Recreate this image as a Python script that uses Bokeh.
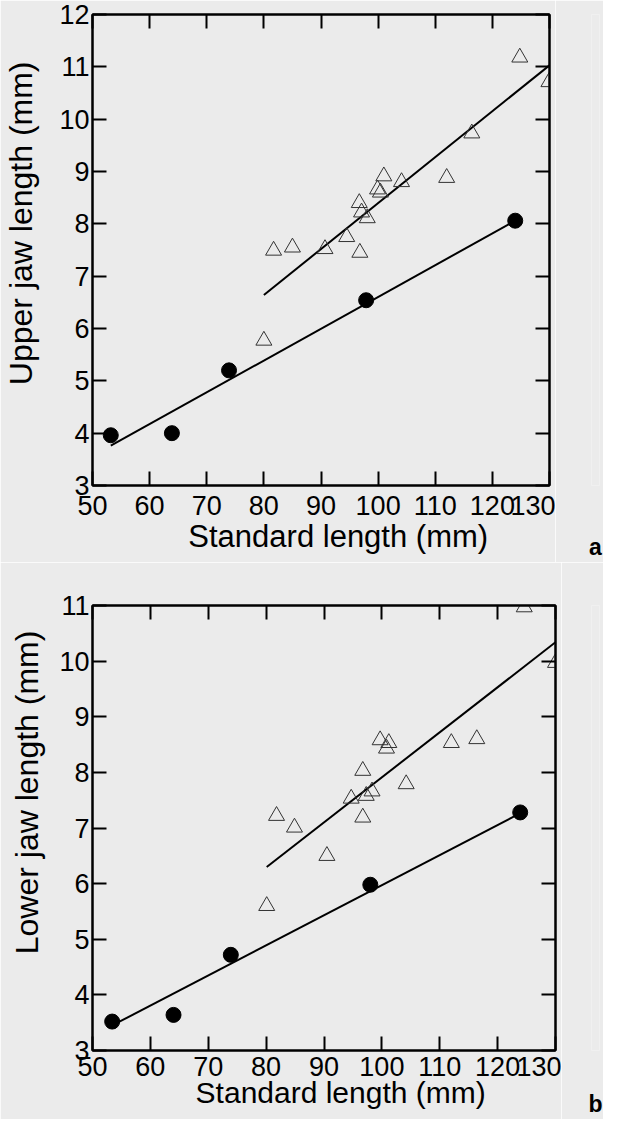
from bokeh.plotting import figure
from bokeh.models import Range1d, LinearAxis, FixedTicker
from bokeh.layouts import column, row
from bokeh.embed import file_html
from bokeh.resources import INLINE

# ---------------- data: panel a (upper jaw length) ----------------
sl_a_circle = [53.2, 63.9, 73.9, 97.9, 124.0]
uj_circle = [3.96, 4.00, 5.20, 6.54, 8.06]

sl_a_triangle = [80.0, 81.7, 85.0, 90.7, 94.5, 96.8, 96.7, 97.1, 98.1,
                 99.9, 100.4, 101.0, 104.1, 112.0, 116.4, 124.8, 129.9]
uj_triangle = [5.77, 7.49, 7.55, 7.52, 7.75, 7.45, 8.40, 8.22, 8.11,
               8.66, 8.60, 8.91, 8.80, 8.88, 9.73, 11.18, 10.71]

fit_a_circle_x = [53.2, 124.0]
fit_a_circle_y = [3.76, 8.06]
fit_a_triangle_x = [80.0, 130.0]
fit_a_triangle_y = [6.64, 11.03]

# ---------------- data: panel b (lower jaw length) ----------------
sl_b_circle = [53.4, 64.0, 73.9, 98.0, 123.9]
lj_circle = [3.52, 3.64, 4.72, 5.98, 7.28]

sl_b_triangle = [80.1, 81.8, 84.9, 90.5, 94.7, 96.7, 96.7, 97.3, 98.3,
                 99.7, 100.8, 101.2, 104.2, 112.0, 116.4, 124.6, 130.0]
lj_triangle = [5.60, 7.22, 7.01, 6.50, 7.53, 8.03, 7.19, 7.58, 7.66,
               8.58, 8.43, 8.53, 7.79, 8.53, 8.60, 10.97, 9.97]

fit_b_circle_x = [53.4, 124.0]
fit_b_circle_y = [3.45, 7.27]
fit_b_triangle_x = [80.1, 130.0]
fit_b_triangle_y = [6.30, 10.34]

# ---------------- axes / labels ----------------
x_tick_values = [50, 60, 70, 80, 90, 100, 110, 120, 130]
y_tick_values_a = [3, 4, 5, 6, 7, 8, 9, 10, 11, 12]
y_tick_values_b = [3, 4, 5, 6, 7, 8, 9, 10, 11]
x_title = "Standard length (mm)"
y_title_a = "Upper jaw length (mm)"
y_title_b = "Lower jaw length (mm)"
tag_a = "a"
tag_b = "b"

FONT = "Liberation Sans"
BG = "#ebebeb"
NBSP = "\u00a0"   # used only to nudge the centred axis titles off-centre


def style_axis(ax, ticks, show_labels, standoff=3):
    ax.ticker = FixedTicker(ticks=ticks)
    ax.major_tick_in = 14
    ax.major_tick_out = 0
    ax.minor_tick_line_color = None
    ax.axis_line_color = "black"
    ax.axis_line_width = 2
    ax.major_tick_line_color = "black"
    ax.major_tick_line_width = 2
    ax.major_label_text_font = FONT
    if show_labels:
        ax.major_label_text_color = "black"
        ax.major_label_standoff = standoff
        ax.major_label_text_font_size = "27px"
    else:
        ax.major_label_text_color = None
        ax.major_label_standoff = 0
        ax.major_label_text_font_size = "1px"


def make_panel(xc, yc, xt, yt, fcx, fcy, ftx, fty, y_lo, y_hi, y_ticks,
               xlabel, ylabel, width, height, borders, x_standoff,
               x_title_standoff, y_title_standoff, x_title_size, y_title_size):
    bl, bt, br, bb = borders
    p = figure(width=width, height=height,
               x_range=Range1d(50, 130), y_range=Range1d(y_lo, y_hi),
               output_backend="svg", toolbar_location=None,
               min_border_left=bl, min_border_top=bt,
               min_border_right=br, min_border_bottom=bb,
               background_fill_color=BG, border_fill_color=BG)
    p.outline_line_color = "black"
    p.outline_line_width = 2
    p.xgrid.grid_line_color = None
    p.ygrid.grid_line_color = None

    xb = p.below[0]
    style_axis(xb, x_tick_values, True, x_standoff)
    xb.axis_label = xlabel
    xb.axis_label_text_font = FONT
    xb.axis_label_text_font_style = "normal"
    xb.axis_label_text_font_size = x_title_size
    xb.axis_label_text_color = "black"
    xb.axis_label_standoff = x_title_standoff

    yl = p.left[0]
    style_axis(yl, y_ticks, True, 3)
    yl.axis_label = ylabel
    yl.axis_label_text_font = FONT
    yl.axis_label_text_font_style = "normal"
    yl.axis_label_text_font_size = y_title_size
    yl.axis_label_text_color = "black"
    yl.axis_label_standoff = y_title_standoff

    top = LinearAxis()
    style_axis(top, x_tick_values, False)
    p.add_layout(top, "above")
    right = LinearAxis()
    style_axis(right, y_ticks, False)
    p.add_layout(right, "right")

    # regression lines
    p.line(fcx, fcy, line_color="black", line_width=2)
    p.line(ftx, fty, line_color="black", line_width=2)
    # points
    p.scatter(xt, yt, marker="triangle", size=16, fill_color=None,
              line_color="#333333", line_width=1)
    p.scatter(xc, yc, marker="circle", size=15, fill_color="black",
              line_color="black")
    return p


def make_tag(text, width, height, borders, standoff):
    bl, bt, br, bb = borders
    t = figure(width=width, height=height, x_range=Range1d(0, 1),
               y_range=Range1d(0, 1), output_backend="svg",
               toolbar_location=None, min_border_left=bl, min_border_top=bt,
               min_border_right=br, min_border_bottom=bb,
               background_fill_color=BG, border_fill_color=BG,
               outline_line_color=None)
    t.yaxis.visible = False
    t.grid.grid_line_color = None
    ax = t.xaxis[0]
    ax.ticker = FixedTicker(ticks=[])
    ax.axis_line_color = None
    ax.major_tick_line_color = None
    ax.minor_tick_line_color = None
    ax.major_tick_in = 0
    ax.major_tick_out = 0
    ax.major_label_standoff = 0
    ax.major_label_text_font_size = "1px"
    ax.major_label_text_color = None
    ax.axis_label = text
    ax.axis_label_text_font = FONT
    ax.axis_label_text_font_size = "23px"
    ax.axis_label_text_font_style = "bold"
    ax.axis_label_text_color = "black"
    ax.axis_label_standoff = standoff
    return t


pa = make_panel(sl_a_circle, uj_circle, sl_a_triangle, uj_triangle,
                fit_a_circle_x, fit_a_circle_y, fit_a_triangle_x, fit_a_triangle_y,
                3, 12, y_tick_values_a,
                NBSP * 4 + x_title, NBSP * 6 + y_title_a,
                555, 562, (89, 14, 6, 77), 10, 1, 17, "31px", "32px")

pb = make_panel(sl_b_circle, lj_circle, sl_b_triangle, lj_triangle,
                fit_b_circle_x, fit_b_circle_y, fit_b_triangle_x, fit_b_triangle_y,
                3, 11, y_tick_values_b,
                NBSP * 4 + x_title, NBSP * 8 + y_title_b,
                561, 557, (92, 43, 6, 67), 6, -3, 11, "30px", "32px")

ta = make_tag(tag_a, 48, 562, (36, 14, 4, 77), 48)
tb = make_tag(tag_b, 42, 557, (30, 43, 4, 67), 40)

layout = column(row(pa, ta, spacing=0), row(pb, tb, spacing=0), spacing=0)
open("out.html", "w").write(file_html(layout, INLINE))
